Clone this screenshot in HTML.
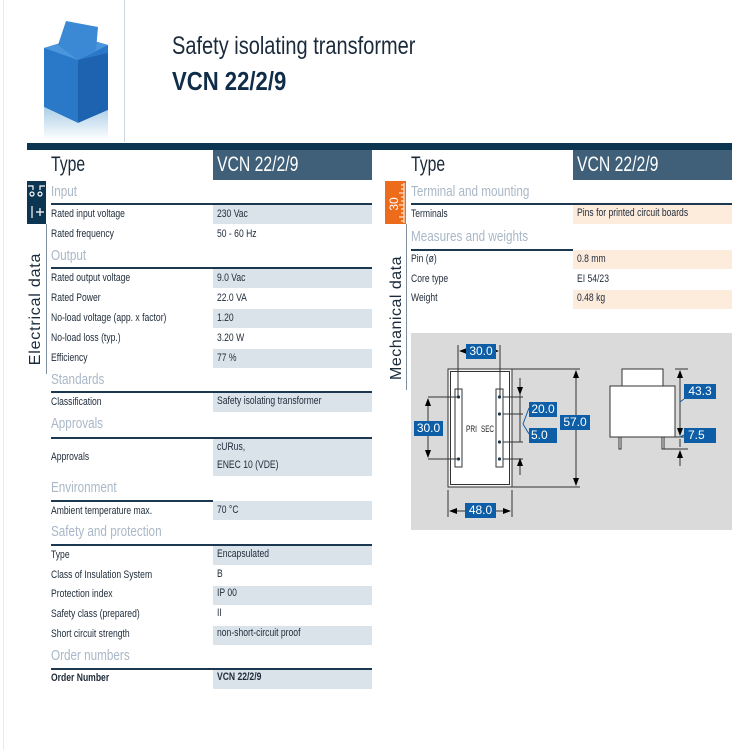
<!DOCTYPE html>
<html><head><meta charset="utf-8"><style>
*{margin:0;padding:0;box-sizing:border-box}
body{width:750px;height:750px;background:#fff;position:relative;overflow:hidden;font-family:"Liberation Sans",sans-serif;color:#1a2a3a}
.a{position:absolute}
.t{position:absolute;white-space:nowrap;transform:scaleX(.78);transform-origin:0 50%;font-size:11px;line-height:20px;color:#1e2a38}
.h{position:absolute;white-space:nowrap;transform:scaleX(.78);transform-origin:0 50%;font-size:15px;line-height:20px;color:#a9b7c6}
.sb{position:absolute;background:#dbe3ea}
.sp{position:absolute;background:#fdebdc}
.ln{position:absolute;height:2px;background:#1c3850}
.bl{position:absolute;background:#0d5ea6;color:#fff;font-size:12px;line-height:15px;text-align:center}
</style></head><body>
<div class="a" style="left:3px;top:0;width:1px;height:750px;background:#e6e9ee"></div>
<div class="a" style="left:124px;top:0;width:1px;height:142px;background:#d0d6de"></div>
<!-- product image -->
<svg class="a" style="left:40px;top:15px" width="75" height="128">
<defs><linearGradient id="r" x1="0" y1="0" x2="0" y2="1"><stop offset="0" stop-color="#a9cde6"/><stop offset="1" stop-color="#fff"/></linearGradient></defs>
<polygon points="4,33 40,22 68,30 68,95 38,108 4,92" fill="#2a79c8"/>
<polygon points="38,45 68,38 68,95 38,108" fill="#1d63b0"/>
<polygon points="4,33 40,22 68,30 38,45" fill="#4a95dc"/>
<polygon points="18,30 26,6 58,12 56,35 38,45" fill="#3b88d4"/>
<polygon points="4,92 38,108 68,95 68,125 4,125" fill="url(#r)"/>
</svg>
<div class="a" style="left:172px;top:32px;font-size:25px;white-space:nowrap;transform:scaleX(.8);transform-origin:0 50%;color:#1a2a3a">Safety isolating transformer</div>
<div class="a" style="left:172px;top:66px;font-size:26px;font-weight:bold;white-space:nowrap;transform:scaleX(.85);transform-origin:0 50%;color:#0f2d48">VCN 22/2/9</div>
<!-- top bar -->
<div class="a" style="left:27px;top:143px;width:705px;height:7px;background:#0b3550"></div>
<!-- LEFT -->
<div class="a" style="left:51px;top:151px;font-size:21px;line-height:28px;transform:scaleX(.75);transform-origin:0 50%;color:#1a2a3a">Type</div>
<div class="a" style="left:213px;top:150px;width:159px;height:30px;background:#3f6078"></div>
<div class="a" style="left:217px;top:151px;font-size:21px;line-height:28px;transform:scaleX(.75);transform-origin:0 50%;color:#fff;white-space:nowrap">VCN 22/2/9</div>
<div class="a" style="left:27px;top:181px;width:19px;height:43px;background:#0b3550"></div>
<svg class="a" style="left:27px;top:181px" width="19" height="43"><g stroke="#fff" fill="none" stroke-width="1.2"><path d="M1 5h5v4M18 5h-5v4"/><circle cx="5" cy="13" r="2"/><circle cx="13" cy="13" r="2"/><path d="M5 25v12M9 31h8M13 27v8"/></g></svg>
<div class="a" style="left:46px;top:224px;width:1px;height:150px;background:#7e8e9e"></div>
<div class="a" style="left:36px;top:309px;font-size:16px;white-space:nowrap;transform:translate(-50%,-50%) rotate(-90deg);letter-spacing:.8px;color:#1a2a3a">Electrical data</div>

<div class="h" style="left:51px;top:182px">Input</div><div class="ln" style="left:51px;top:203px;width:321px"></div>
<div class="sb" style="left:213px;top:205px;width:159px;height:19px"></div>
<div class="t" style="left:51px;top:204px">Rated input voltage</div><div class="t" style="left:217px;top:204px">230 Vac</div>
<div class="t" style="left:51px;top:224px">Rated frequency</div><div class="t" style="left:217px;top:224px">50 - 60 Hz</div>
<div class="h" style="left:51px;top:246px">Output</div><div class="ln" style="left:51px;top:267px;width:321px"></div>
<div class="sb" style="left:213px;top:269px;width:159px;height:19px"></div>
<div class="sb" style="left:213px;top:309px;width:159px;height:19px"></div>
<div class="sb" style="left:213px;top:349px;width:159px;height:19px"></div>
<div class="t" style="left:51px;top:268px">Rated output voltage</div><div class="t" style="left:217px;top:268px">9.0 Vac</div>
<div class="t" style="left:51px;top:288px">Rated Power</div><div class="t" style="left:217px;top:288px">22.0 VA</div>
<div class="t" style="left:51px;top:308px">No-load voltage (app. x factor)</div><div class="t" style="left:217px;top:308px">1.20</div>
<div class="t" style="left:51px;top:328px">No-load loss (typ.)</div><div class="t" style="left:217px;top:328px">3.20 W</div>
<div class="t" style="left:51px;top:348px">Efficiency</div><div class="t" style="left:217px;top:348px">77 %</div>
<div class="h" style="left:51px;top:370px">Standards</div><div class="ln" style="left:51px;top:391px;width:321px"></div>
<div class="sb" style="left:213px;top:393px;width:159px;height:19px"></div>
<div class="t" style="left:51px;top:392px">Classification</div><div class="t" style="left:217px;top:391px">Safety isolating transformer</div>
<div class="h" style="left:51px;top:414px">Approvals</div><div class="ln" style="left:51px;top:437px;width:321px"></div>
<div class="sb" style="left:213px;top:439px;width:159px;height:37px"></div>
<div class="t" style="left:51px;top:447px">Approvals</div><div class="t" style="left:217px;top:437px">cURus,</div><div class="t" style="left:217px;top:455px">ENEC 10 (VDE)</div>
<div class="h" style="left:51px;top:478px">Environment</div><div class="ln" style="left:51px;top:500px;width:162px"></div>
<div class="sb" style="left:213px;top:501px;width:159px;height:19px"></div>
<div class="t" style="left:51px;top:501px">Ambient temperature max.</div><div class="t" style="left:217px;top:500px">70 °C</div>
<div class="h" style="left:51px;top:522px">Safety and protection</div><div class="ln" style="left:51px;top:544px;width:321px"></div>
<div class="sb" style="left:213px;top:546px;width:159px;height:19px"></div>
<div class="sb" style="left:213px;top:586px;width:159px;height:19px"></div>
<div class="sb" style="left:213px;top:626px;width:159px;height:19px"></div>
<div class="t" style="left:51px;top:545px">Type</div><div class="t" style="left:217px;top:544px">Encapsulated</div>
<div class="t" style="left:51px;top:565px">Class of Insulation System</div><div class="t" style="left:217px;top:564px">B</div>
<div class="t" style="left:51px;top:584px">Protection index</div><div class="t" style="left:217px;top:583px">IP 00</div>
<div class="t" style="left:51px;top:604px">Safety class (prepared)</div><div class="t" style="left:217px;top:603px">II</div>
<div class="t" style="left:51px;top:624px">Short circuit strength</div><div class="t" style="left:217px;top:623px">non-short-circuit proof</div>
<div class="h" style="left:51px;top:646px">Order numbers</div><div class="ln" style="left:51px;top:668px;width:321px"></div>
<div class="sb" style="left:213px;top:670px;width:159px;height:19px"></div>
<div class="t" style="left:51px;top:668px;font-weight:bold">Order Number</div><div class="t" style="left:217px;top:667px;font-weight:bold">VCN 22/2/9</div>

<!-- RIGHT -->
<div class="a" style="left:411px;top:151px;font-size:21px;line-height:28px;transform:scaleX(.75);transform-origin:0 50%;color:#1a2a3a">Type</div>
<div class="a" style="left:573px;top:150px;width:159px;height:30px;background:#3f6078"></div>
<div class="a" style="left:577px;top:151px;font-size:21px;line-height:28px;transform:scaleX(.75);transform-origin:0 50%;color:#fff;white-space:nowrap">VCN 22/2/9</div>
<div class="a" style="left:385px;top:181px;width:21px;height:43px;background:#ec6c1c"></div>
<svg class="a" style="left:385px;top:181px" width="21" height="43"><g stroke="#fff" stroke-width="1"><path d="M19 2v40"/><path d="M19 4h-3M19 8h-3M19 12h-5M19 16h-3M19 20h-3M19 24h-5M19 28h-3M19 32h-3M19 36h-5M19 40h-3"/></g><text x="0" y="0" transform="translate(13,23) rotate(-90)" font-size="12" fill="#fff" font-family="Liberation Sans" text-anchor="middle">30</text></svg>
<div class="a" style="left:406px;top:224px;width:1px;height:166px;background:#7e8e9e"></div>
<div class="a" style="left:397px;top:318px;font-size:16px;white-space:nowrap;transform:translate(-50%,-50%) rotate(-90deg);letter-spacing:.5px;color:#1a2a3a">Mechanical data</div>
<div class="h" style="left:411px;top:182px">Terminal and mounting</div><div class="ln" style="left:411px;top:203px;width:321px"></div>
<div class="sp" style="left:573px;top:205px;width:159px;height:19px"></div>
<div class="t" style="left:411px;top:204px">Terminals</div><div class="t" style="left:577px;top:203px">Pins for printed circuit boards</div>
<div class="h" style="left:411px;top:227px">Measures and weights</div><div class="ln" style="left:411px;top:249px;width:162px"></div>
<div class="sp" style="left:573px;top:250px;width:159px;height:19px"></div>
<div class="sp" style="left:573px;top:290px;width:159px;height:19px"></div>
<div class="t" style="left:411px;top:249px">Pin (ø)</div><div class="t" style="left:577px;top:249px">0.8 mm</div>
<div class="t" style="left:411px;top:269px">Core type</div><div class="t" style="left:577px;top:269px">EI 54/23</div>
<div class="t" style="left:411px;top:288px">Weight</div><div class="t" style="left:577px;top:288px">0.48 kg</div>

<!-- drawing -->
<svg class="a" style="left:0;top:0" width="750" height="750">
<defs><marker id="m" markerWidth="8" markerHeight="8" refX="7" refY="4" orient="auto-start-reverse" markerUnits="userSpaceOnUse"><path d="M0 1L8 4L0 7z" fill="#000"/></marker></defs>
<rect x="411" y="333" width="321" height="197" fill="#dadada"/>
<g stroke="#333" stroke-width="1" fill="none">
<rect x="448" y="369" width="64" height="118" fill="#f4f4f4"/>
<rect x="450.5" y="371.5" width="59" height="113" fill="#fff"/>
<rect x="455" y="389" width="7" height="78" fill="#fff"/>
<rect x="496" y="389" width="7" height="78" fill="#fff"/>
<path d="M458 345v52M500 345v52M428 397h30M428 459h30M503 397h20M503 414h20M503 442h20M503 459h20M512 369h68M512 487h68M448 490v27M512 490v27M675 369h13M675 437h13M664 449h24"/>
<path d="M460 351h38" marker-start="url(#m)" marker-end="url(#m)"/>
<path d="M428 399v58" marker-start="url(#m)" marker-end="url(#m)"/>
<path d="M576 371v114" marker-start="url(#m)" marker-end="url(#m)"/>
<path d="M450 511h60" marker-start="url(#m)" marker-end="url(#m)"/>
<path d="M520 378v16" marker-end="url(#m)"/><path d="M520 394v48"/><path d="M520 475v-16" marker-end="url(#m)"/>
<path d="M680 371v64" marker-start="url(#m)" marker-end="url(#m)"/>
<path d="M680 439v8" /><path d="M680 466v-15" marker-end="url(#m)"/>
<rect x="622" y="369" width="41" height="17" fill="#fff"/>
<rect x="610" y="386" width="65" height="51" fill="#fff"/>
<rect x="619" y="437" width="2" height="12" fill="#fff"/>
<rect x="662" y="437" width="2" height="12" fill="#fff"/>
</g>
<g stroke="#0d5ea6" stroke-width="1"><path d="M523 424l6-16M523 424l6 10M684 399l-4 3M684 435l-4 2"/></g>
<g fill="#1c3850"><circle cx="458.5" cy="397" r="1.6"/><circle cx="458.5" cy="459" r="1.6"/><circle cx="499.5" cy="397" r="1.6"/><circle cx="499.5" cy="414" r="1.6"/><circle cx="499.5" cy="442" r="1.6"/><circle cx="499.5" cy="459" r="1.6"/></g>
<text x="466" y="432" font-size="9" font-family="Liberation Sans" fill="#222" textLength="11" lengthAdjust="spacingAndGlyphs">PRI</text>
<text x="481" y="432" font-size="9" font-family="Liberation Sans" fill="#222" textLength="13" lengthAdjust="spacingAndGlyphs">SEC</text>
</svg>
<div class="bl" style="left:466px;top:344px;width:30px">30.0</div>
<div class="bl" style="left:414px;top:421px;width:29px">30.0</div>
<div class="bl" style="left:529px;top:402px;width:28px">20.0</div>
<div class="bl" style="left:529px;top:428px;width:28px;text-align:left;padding-left:2px">5.0</div>
<div class="bl" style="left:560px;top:415px;width:30px">57.0</div>
<div class="bl" style="left:465px;top:503px;width:31px">48.0</div>
<div class="bl" style="left:684px;top:384px;width:32px">43.3</div>
<div class="bl" style="left:684px;top:428px;width:32px;text-align:left;padding-left:4px">7.5</div>
</body></html>
